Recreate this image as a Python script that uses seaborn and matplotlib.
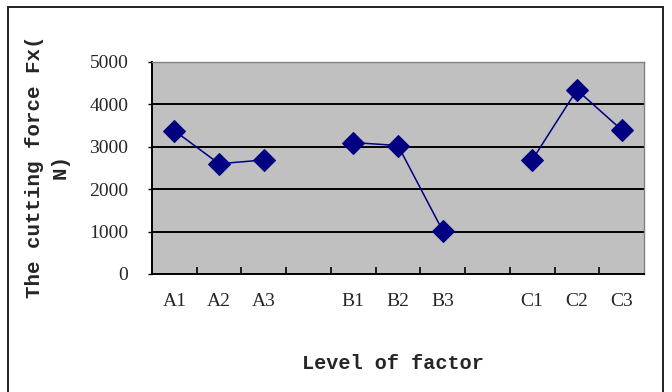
import numpy as np
import pandas as pd
import matplotlib
matplotlib.use('Agg')
import matplotlib.pyplot as plt
from matplotlib.patches import Rectangle
import seaborn as sns

# categories along the x axis (blank slots separate the factors)
categories = ['A1', 'A2', 'A3', '', 'B1', 'B2', 'B3', '', 'C1', 'C2', 'C3']
factors = ['A', 'A', 'A', None, 'B', 'B', 'B', None, 'C', 'C', 'C']
force = [3380, 2600, 2690, np.nan, 3100, 3030, 1020, np.nan, 2690, 4340, 3400]

df = pd.DataFrame({'pos': range(len(categories)), 'label': categories,
                   'factor': factors, 'force': force})
df = df.dropna(subset=['force'])

sns.set_style('white')
plt.rcParams['font.family'] = ['Liberation Serif', 'DejaVu Sans']

fig = plt.figure(figsize=(6.72, 3.92), dpi=100)
ax = fig.add_axes([152 / 672, 1 - 274 / 392, 492 / 672, 212 / 392])
ax.set_facecolor('#c0c0c0')

sns.lineplot(data=df, x='pos', y='force', hue='factor',
             palette=['#000080'] * 3, marker='D', markersize=11,
             markeredgecolor='#000080', linewidth=1.1, legend=False, ax=ax)

ax.set_xlim(-0.5, len(categories) - 0.5)
ax.set_ylim(0, 5000)
ax.set_yticks(range(0, 5001, 1000))
ax.yaxis.grid(True, color='black', linewidth=1.4)
ax.set_axisbelow(True)

ax.set_xticks(range(len(categories)))
ax.set_xticklabels(categories)
ax.set_xticks(np.arange(0.5, len(categories) - 0.5, 1), minor=True)
ax.tick_params(axis='x', which='major', length=0, pad=14, labelsize=14)
ax.tick_params(axis='x', which='minor', direction='in', length=5,
               width=1.2, color='black', bottom=True)
ax.tick_params(axis='y', length=3, width=1, color='black', pad=14,
               labelsize=14, left=True)

for side in ['left', 'bottom']:
    ax.spines[side].set_color('black')
    ax.spines[side].set_linewidth(1.4)
for side in ['top', 'right']:
    ax.spines[side].set_color('#808080')
    ax.spines[side].set_linewidth(1.0)

ax.set_ylabel('The cutting force Fx(\nN)', family=['Liberation Mono'],
              fontweight='bold', fontsize=15, linespacing=1.4)
ax.yaxis.set_label_coords(-0.168, 0.505)
ax.set_xlabel('Level of factor', family=['Liberation Mono'],
              fontweight='bold', fontsize=14.5)
ax.xaxis.set_label_coords(0.49, -0.375)

fig.add_artist(Rectangle((8 / 672, -0.1), 655 / 672, 1.1 - 7 / 392,
                         transform=fig.transFigure, fill=False,
                         edgecolor='#202020', linewidth=1.4))

fig.savefig('out.png', dpi=100)
